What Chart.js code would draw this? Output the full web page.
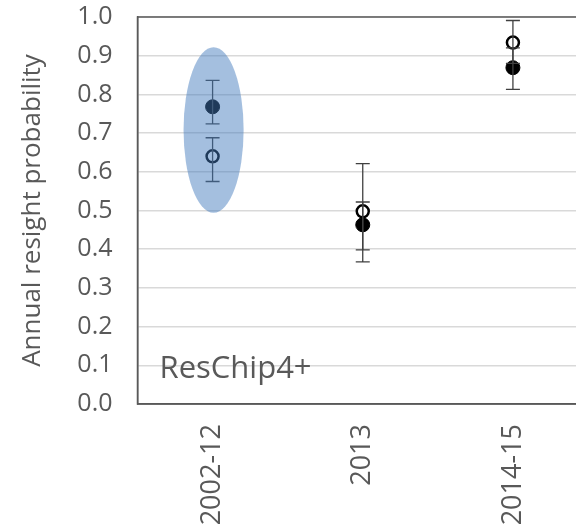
<!DOCTYPE html>
<html>
<head>
<meta charset="utf-8">
<script src="https://cdn.jsdelivr.net/npm/chart.js@4/dist/chart.umd.min.js"></script>
<style>
  body { margin: 0; overflow: hidden; background: #fff; }
  #wrap { width: 600px; height: 527px; }
</style>
</head>
<body>
<div id="wrap"><canvas id="chart"></canvas></div>
<script>
// data
const categories = ["2002-12", "2013", "2014-15"];
const filledMean = [0.768, 0.463, 0.869];
const filledLower = [0.724, 0.398, 0.813];
const filledUpper = [0.836, 0.522, 0.92];
const openMean = [0.640, 0.498, 0.934];
const openLower = [0.575, 0.367, 0.88];
const openUpper = [0.688, 0.621, 0.991];
const yTicks = [0, 0.1, 0.2, 0.3, 0.4, 0.5, 0.6, 0.7, 0.8, 0.9, 1.0];
const highlightCategory = "2002-12";
const highlightRange = [0.494, 0.922];
const panelLabel = "ResChip4+";

const textColor = "#595959";
const fontFamily = "'Open Sans', sans-serif";

// error bars, highlight ellipse, frame and panel label
const extras = {
  id: "extras",
  afterDatasetsDraw(chart) {
    const ctx = chart.ctx;
    const x = chart.scales.x, y = chart.scales.y;
    const area = chart.chartArea;
    ctx.save();
    ctx.beginPath();
    ctx.rect(area.left, area.top, area.right - area.left, area.bottom - area.top);
    ctx.clip();

    ctx.strokeStyle = "#404040";
    ctx.lineWidth = 1.3;
    const bars = [[openLower, openUpper], [filledLower, filledUpper]];
    bars.forEach(([lo, hi]) => {
      categories.forEach((c, i) => {
        const px = x.getPixelForValue(i);
        const y1 = y.getPixelForValue(lo[i]);
        const y2 = y.getPixelForValue(hi[i]);
        ctx.beginPath();
        ctx.moveTo(px, y1); ctx.lineTo(px, y2);
        ctx.moveTo(px - 7, y1); ctx.lineTo(px + 7, y1);
        ctx.moveTo(px - 7, y2); ctx.lineTo(px + 7, y2);
        ctx.stroke();
      });
    });

    // highlight ellipse
    const ci = categories.indexOf(highlightCategory);
    const cx = x.getPixelForValue(ci);
    const halfW = (x.getPixelForValue(1) - x.getPixelForValue(0)) * 0.2;
    const yTop = y.getPixelForValue(highlightRange[1]);
    const yBot = y.getPixelForValue(highlightRange[0]);
    ctx.fillStyle = "rgba(65,121,188,0.48)";
    ctx.beginPath();
    ctx.ellipse(cx + 1, (yTop + yBot) / 2, halfW, (yBot - yTop) / 2, 0, 0, Math.PI * 2);
    ctx.fill();

    ctx.fillStyle = textColor;
    ctx.font = "31px " + fontFamily;
    ctx.textBaseline = "middle";
    ctx.fillText(panelLabel, area.left + 22, y.getPixelForValue(0.09));
    ctx.restore();

    // frame
    ctx.save();
    ctx.strokeStyle = "#595959";
    ctx.lineWidth = 1.5;
    ctx.strokeRect(area.left, area.top, area.right - area.left, area.bottom - area.top);
    ctx.restore();
  }
};

new Chart(document.getElementById("chart"), {
  type: "line",
  data: {
    labels: categories,
    datasets: [
      {
        label: "open",
        data: openMean,
        showLine: false,
        pointRadius: 6,
        pointBorderWidth: 2.5,
        pointBackgroundColor: "#ffffff",
        pointBorderColor: "#000000",
        order: 2,
      },
      {
        label: "filled",
        data: filledMean,
        showLine: false,
        pointRadius: 7,
        pointBorderWidth: 1,
        pointBackgroundColor: "#000000",
        pointBorderColor: "#000000",
        order: 1,
      },
    ],
  },
  options: {
    responsive: true,
    maintainAspectRatio: false,
    animation: false,
    layout: { padding: { top: 17, right: 12, left: 0, bottom: 0 } },
    plugins: { legend: { display: false }, tooltip: { enabled: false } },
    scales: {
      x: {
        offset: true,
        grid: { display: false, drawTicks: false },
        border: { color: "#595959", width: 1.5 },
        ticks: {
          color: textColor,
          font: { family: fontFamily, size: 27 },
          minRotation: 90,
          maxRotation: 90,
          padding: 20,
        },
        afterFit(scale) { scale.height = 123; },
      },
      y: {
        min: 0,
        max: 1,
        afterBuildTicks(scale) { scale.ticks = yTicks.map(v => ({ value: v })); },
        grid: { color: "#d9d9d9", lineWidth: 1.5, drawTicks: false },
        border: { color: "#595959", width: 1.5 },
        ticks: {
          color: textColor,
          font: { family: fontFamily, size: 25 },
          padding: 25,
          callback: v => v.toFixed(1),
        },
        title: {
          display: true,
          text: "Annual resight probability",
          color: textColor,
          font: { family: fontFamily, size: 26 },
          padding: { top: 17, bottom: 0 },
        },
        afterFit(scale) {
          scale.width = 137.5;
          scale.paddingTop = 0;
          scale.paddingBottom = 0;
        },
      },
    },
  },
  plugins: [extras],
});
</script>
</body>
</html>
